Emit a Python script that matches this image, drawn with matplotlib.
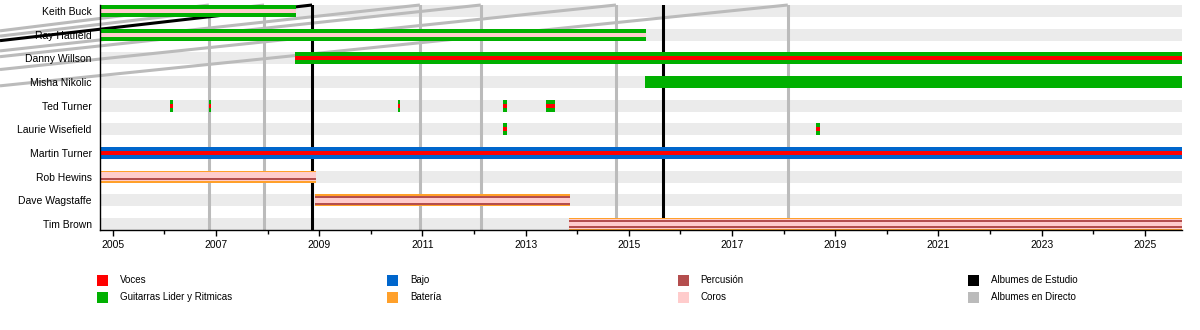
import numpy as np
import matplotlib.pyplot as plt
from matplotlib.patches import Rectangle

plt.rcParams.update({
    "font.family": ["Liberation Sans", "DejaVu Sans"],
    "font.size": 7.5,
    "axes.linewidth": 1.0,
    "xtick.direction": "out",
})

# timeline limits (decimal years)
t_start = 2004.75
t_end = 2025.72

members = ['Keith Buck', 'Ray Hatfield', 'Danny Willson', 'Misha Nikolic', 'Ted Turner',
           'Laurie Wisefield', 'Martin Turner', 'Rob Hewins', 'Dave Wagstaffe', 'Tim Brown']

# periods per member (start, end)
periods = {
    'Keith Buck': [(t_start, 2008.55)],
    'Ray Hatfield': [(t_start, 2015.33)],
    'Danny Willson': [(2008.53, t_end)],
    'Misha Nikolic': [(2015.31, t_end)],
    'Ted Turner': [(2006.10, 2006.16), (2006.86, 2006.91), (2010.53, 2010.57),
                   (2012.56, 2012.63), (2013.39, 2013.57)],
    'Laurie Wisefield': [(2012.56, 2012.63), (2018.63, 2018.70)],
    'Martin Turner': [(t_start, t_end)],
    'Rob Hewins': [(t_start, 2008.94)],
    'Dave Wagstaffe': [(2008.92, 2013.85)],
    'Tim Brown': [(2013.83, t_end)],
}

# role combination per member
roles = {
    'Keith Buck': 'guitar_backing',
    'Ray Hatfield': 'guitar_backing',
    'Danny Willson': 'guitar_vocals',
    'Misha Nikolic': 'guitar',
    'Ted Turner': 'guitar_vocals',
    'Laurie Wisefield': 'guitar_vocals',
    'Martin Turner': 'bass_vocals',
    'Rob Hewins': 'drums_one',
    'Dave Wagstaffe': 'drums_two',
    'Tim Brown': 'drums_two',
}

studio_albums = [2008.86, 2015.66]
live_albums = [2006.86, 2007.93, 2010.95, 2012.13, 2014.75, 2018.08]

legend_labels = ['Voces', 'Guitarras Lider y Ritmicas', 'Bajo', 'Batería',
                 'Percusión', 'Coros', 'Albumes de Estudio', 'Albumes en Directo']

c_voc = '#ff0000'
c_gtr = '#00b000'
c_bass = '#0066cc'
c_drum = '#ffa02a'
c_perc = '#b44e4e'
c_back = '#ffcccc'
c_studio = '#000000'
c_live = '#bbbbbb'
legend_colors = [c_voc, c_gtr, c_bass, c_drum, c_perc, c_back, c_studio, c_live]

H = 0.5  # bar height in row units

# layers: (color, height, offset from row centre)
styles = {
    'guitar': [(c_gtr, H, 0)],
    'guitar_backing': [(c_gtr, H, 0), (c_back, H / 3, 0)],
    'guitar_vocals': [(c_gtr, H, 0), (c_voc, H / 3, 0)],
    'bass_vocals': [(c_bass, H, 0), (c_voc, H / 3, 0)],
    'drums_one': [(c_drum, H, 0), (c_back, H * 0.78, 0), (c_perc, 0.085, 0.1)],
    'drums_two': [(c_drum, H, 0), (c_back, H * 0.78, 0), (c_perc, 0.085, -0.14),
                  (c_perc, 0.085, 0.14)],
}

fig = plt.figure(figsize=(12, 3.3), dpi=100)
ax = fig.add_axes([100 / 1200, 1 - 230 / 330, 1082 / 1200, 225 / 330])

ypos = np.arange(len(members))
ax.set_xlim(t_start, t_end)
ax.set_ylim(len(members) - 1 + H / 2, -H / 2)

# background stripes
for y in ypos:
    ax.barh(y, t_end - t_start, left=t_start, height=H, color='#ebebeb', zorder=0.5)

# album lines
for x in studio_albums:
    ax.axvline(x, color=c_studio, lw=2.2, zorder=1.2)
for x in live_albums:
    ax.axvline(x, color=c_live, lw=2.2, zorder=1.1)

# slanted connector lines running off to the left
fig_w, fig_h = fig.get_size_inches() * fig.dpi
top_px = ax.transData.transform((t_start, -H / 2))[1]
for xs, col, z in [(live_albums, c_live, 1.1), (studio_albums[:1], c_studio, 1.2)]:
    for x in xs:
        px = ax.transData.transform((x, 0))[0]
        y0 = top_px - (0.095 * px + 6)
        ax.plot([0, px / fig_w], [y0 / fig_h, top_px / fig_h], color=col, lw=2.2,
                transform=fig.transFigure, clip_on=False, zorder=z, solid_capstyle='butt')

# member bars
for y, name in zip(ypos, members):
    for (a, b) in periods[name]:
        for col, h, off in styles[roles[name]]:
            ax.barh(y + off, b - a, left=a, height=h, color=col, zorder=2)

ax.set_yticks(ypos)
ax.set_yticklabels(members)
ax.tick_params(axis='y', length=0, pad=6)
ax.set_xticks(np.arange(2005, 2026, 2))
ax.set_xticks(np.arange(2006, 2026, 2), minor=True)
ax.tick_params(axis='x', which='major', length=4, width=1, labelsize=7.5, pad=3)
ax.tick_params(axis='x', which='minor', length=3, width=1)
for s in ['top', 'right']:
    ax.spines[s].set_visible(False)

# legend
for i, (lab, col) in enumerate(zip(legend_labels, legend_colors)):
    cx = 97 + 290.3 * (i // 2)
    cy = 280 + 17 * (i % 2)
    fig.patches.append(Rectangle((cx / fig_w, 1 - (cy + 5.5) / fig_h), 11 / fig_w, 11 / fig_h,
                                 facecolor=col, edgecolor='none', transform=fig.transFigure))
    fig.text((cx + 23) / fig_w, 1 - cy / fig_h, lab, va='center', ha='left', fontsize=7)

fig.savefig('out.png', dpi=100)
